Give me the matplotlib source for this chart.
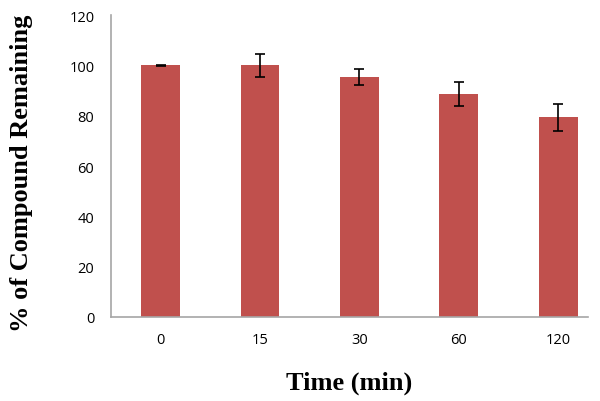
import matplotlib
matplotlib.use("Agg")
import matplotlib.pyplot as plt

time_labels = ["0", "15", "30", "60", "120"]
remaining = [100.0, 100.0, 95.3, 88.6, 79.3]
errors = [0.3, 4.7, 3.2, 4.9, 5.5]

BAR = "#C0504D"
AXIS = "#A6A6A6"

fig = plt.figure(figsize=(6, 4.02), dpi=100)
ax = fig.add_axes([0.185, 0.209, 0.795, 0.751])

x = range(len(time_labels))
ax.bar(x, remaining, width=0.39, color=BAR, zorder=2)
ax.errorbar(x, remaining, yerr=errors, fmt="none", ecolor="black",
            elinewidth=1.2, capsize=3.5, capthick=1.2, zorder=3)

ax.set_xlim(-0.5, 4.3)
ax.set_ylim(0, 120)
ax.set_yticks(range(0, 121, 20))
ax.set_xticks(list(x))
ax.set_xticklabels(time_labels)
ax.tick_params(length=0, labelsize=10.5, colors="black")
ax.tick_params(axis="y", pad=12)
ax.tick_params(axis="x", pad=11)
for lab in ax.get_xticklabels() + ax.get_yticklabels():
    lab.set_family("Open Sans")

for s in ["top", "right"]:
    ax.spines[s].set_visible(False)
for s in ["left", "bottom"]:
    ax.spines[s].set_color(AXIS)
    ax.spines[s].set_linewidth(1.2)

ax.set_xlabel("Time (min)", family="Liberation Serif", fontweight="bold",
              fontsize=19, labelpad=17)
ax.set_ylabel("% of Compound Remaining", family="Liberation Serif",
              fontweight="bold", fontsize=19)
ax.yaxis.set_label_coords(-0.163, 0.48)

fig.savefig("out.png", dpi=100, facecolor="white")
